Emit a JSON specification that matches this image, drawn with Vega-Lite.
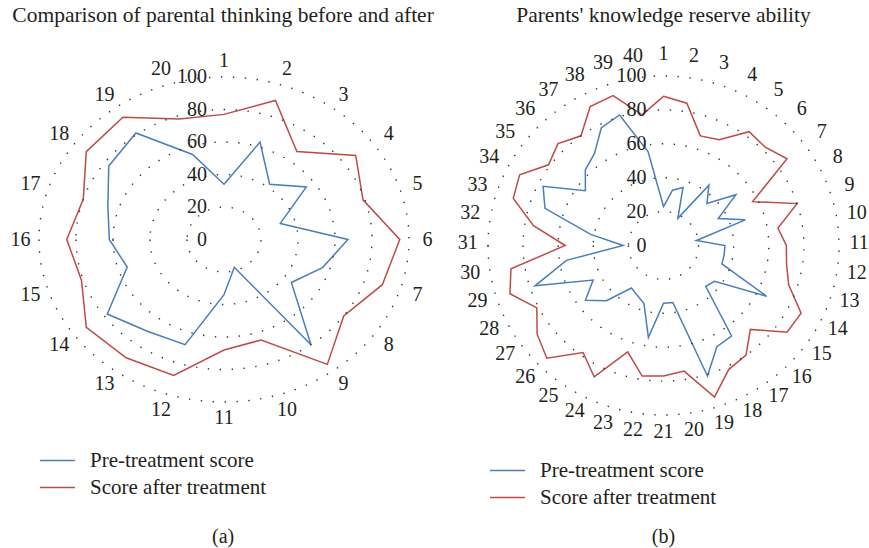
{
  "$schema": "https://vega.github.io/schema/vega-lite/v6.json",
  "width": 869,
  "height": 548,
  "padding": 0,
  "autosize": {"type": "none"},
  "background": "white",
  "config": {"view": {"stroke": null}, "font": "Liberation Serif"},
  "datasets": {
    "rings": [{"ring": 0}, {"ring": 20}, {"ring": 40}, {"ring": 60}, {"ring": 80}, {"ring": 100}],
    "a": [
      {"cat": 1, "Pre-treatment score": 34, "Score after treatment": 77},
      {"cat": 2, "Pre-treatment score": 63, "Score after treatment": 90},
      {"cat": 3, "Pre-treatment score": 42, "Score after treatment": 67},
      {"cat": 4, "Pre-treatment score": 55, "Score after treatment": 88},
      {"cat": 5, "Pre-treatment score": 32, "Score after treatment": 79},
      {"cat": 6, "Pre-treatment score": 67, "Score after treatment": 95},
      {"cat": 7, "Pre-treatment score": 56, "Score after treatment": 90},
      {"cat": 8, "Pre-treatment score": 45, "Score after treatment": 80},
      {"cat": 9, "Pre-treatment score": 80, "Score after treatment": 95},
      {"cat": 10, "Pre-treatment score": 18, "Score after treatment": 65},
      {"cat": 11, "Pre-treatment score": 34, "Score after treatment": 68},
      {"cat": 12, "Pre-treatment score": 68, "Score after treatment": 88},
      {"cat": 13, "Pre-treatment score": 70, "Score after treatment": 90},
      {"cat": 14, "Pre-treatment score": 78, "Score after treatment": 92},
      {"cat": 15, "Pre-treatment score": 55, "Score after treatment": 81},
      {"cat": 16, "Pre-treatment score": 62, "Score after treatment": 85},
      {"cat": 17, "Pre-treatment score": 66, "Score after treatment": 80},
      {"cat": 18, "Pre-treatment score": 77, "Score after treatment": 92},
      {"cat": 19, "Pre-treatment score": 81, "Score after treatment": 93},
      {"cat": 20, "Pre-treatment score": 55, "Score after treatment": 78}
    ],
    "b": [
      {"cat": 1, "Pre-treatment score": 23, "Score after treatment": 88},
      {"cat": 2, "Pre-treatment score": 33, "Score after treatment": 85},
      {"cat": 3, "Pre-treatment score": 36, "Score after treatment": 68},
      {"cat": 4, "Pre-treatment score": 18, "Score after treatment": 70},
      {"cat": 5, "Pre-treatment score": 44, "Score after treatment": 83},
      {"cat": 6, "Pre-treatment score": 35, "Score after treatment": 82},
      {"cat": 7, "Pre-treatment score": 51, "Score after treatment": 87},
      {"cat": 8, "Pre-treatment score": 35, "Score after treatment": 57},
      {"cat": 9, "Pre-treatment score": 49, "Score after treatment": 80},
      {"cat": 10, "Pre-treatment score": 19, "Score after treatment": 66},
      {"cat": 11, "Pre-treatment score": 35, "Score after treatment": 70},
      {"cat": 12, "Pre-treatment score": 35, "Score after treatment": 71},
      {"cat": 13, "Pre-treatment score": 35, "Score after treatment": 75},
      {"cat": 14, "Pre-treatment score": 66, "Score after treatment": 88},
      {"cat": 15, "Pre-treatment score": 36, "Score after treatment": 87},
      {"cat": 16, "Pre-treatment score": 34, "Score after treatment": 70},
      {"cat": 17, "Pre-treatment score": 66, "Score after treatment": 80},
      {"cat": 18, "Pre-treatment score": 67, "Score after treatment": 82},
      {"cat": 19, "Pre-treatment score": 81, "Score after treatment": 94},
      {"cat": 20, "Pre-treatment score": 34, "Score after treatment": 75},
      {"cat": 21, "Pre-treatment score": 34, "Score after treatment": 77},
      {"cat": 22, "Pre-treatment score": 55, "Score after treatment": 78},
      {"cat": 23, "Pre-treatment score": 36, "Score after treatment": 66},
      {"cat": 24, "Pre-treatment score": 33, "Score after treatment": 87},
      {"cat": 25, "Pre-treatment score": 31, "Score after treatment": 78},
      {"cat": 26, "Pre-treatment score": 46, "Score after treatment": 94},
      {"cat": 27, "Pre-treatment score": 55, "Score after treatment": 89},
      {"cat": 28, "Pre-treatment score": 45, "Score after treatment": 81},
      {"cat": 29, "Pre-treatment score": 77, "Score after treatment": 92},
      {"cat": 30, "Pre-treatment score": 56, "Score after treatment": 88},
      {"cat": 31, "Pre-treatment score": 23, "Score after treatment": 56},
      {"cat": 32, "Pre-treatment score": 42, "Score after treatment": 75},
      {"cat": 33, "Pre-treatment score": 71, "Score after treatment": 90},
      {"cat": 34, "Pre-treatment score": 77, "Score after treatment": 92},
      {"cat": 35, "Pre-treatment score": 55, "Score after treatment": 81},
      {"cat": 36, "Pre-treatment score": 63, "Score after treatment": 85},
      {"cat": 37, "Pre-treatment score": 67, "Score after treatment": 80},
      {"cat": 38, "Pre-treatment score": 78, "Score after treatment": 92},
      {"cat": 39, "Pre-treatment score": 81, "Score after treatment": 93},
      {"cat": 40, "Pre-treatment score": 56, "Score after treatment": 78}
    ]
  },
  "layer": [
    {
      "layer": [
        {
          "data": {"name": "a"},
          "transform": [
            {"fold": ["Pre-treatment score", "Score after treatment"], "as": ["series", "value"]},
            {"calculate": "2*PI*(datum.cat-1)/20", "as": "ang"},
            {"calculate": "datum.value*sin(datum.ang)", "as": "px"},
            {"calculate": "datum.value*cos(datum.ang)", "as": "py"}
          ],
          "mark": {"type": "line", "interpolate": "linear-closed", "strokeWidth": 1.5},
          "encoding": {
            "x": {"field": "px", "type": "quantitative", "scale": {"domain": [-121.081, 348.649], "nice": false, "zero": false}, "axis": null},
            "y": {"field": "py", "type": "quantitative", "scale": {"domain": [-189.846, 147.385], "nice": false, "zero": false}, "axis": null},
            "order": {"field": "cat", "type": "quantitative"},
            "color": {"field": "series", "type": "nominal",
              "scale": {"domain": ["Pre-treatment score", "Score after treatment"], "range": ["#4a7ebb", "#be4b48"]},
              "legend": {"title": null, "orient": "none", "legendX": 39, "legendY": 447, "symbolType": "stroke", "symbolSize": 1225, "symbolStrokeWidth": 1.5, "labelFont": "Liberation Serif", "labelFontSize": 21, "labelColor": "#231f20", "labelOffset": 14, "rowPadding": 0, "clipHeight": 27, "labelLimit": 400}}
          }
        },
        {
          "data": {"name": "rings"},
          "mark": {"type": "point", "shape": "M-1,0A1,0.8784,0,1,0,1,0A1,0.8784,0,1,0,-1,0Z", "filled": false, "stroke": "#333333", "strokeWidth": 1.4, "strokeDash": [1.4, 10.5], "opacity": 1},
          "encoding": {
            "x": {"datum": 0, "type": "quantitative", "axis": null},
            "y": {"datum": 0, "type": "quantitative", "axis": null},
            "size": {"field": "ring", "type": "quantitative", "scale": {"type": "pow", "exponent": 2, "domain": [0, 100], "range": [0, 136900]}, "legend": null}
          }
        },
        {
          "data": {"name": "rings"},
          "mark": {"type": "text", "align": "right", "baseline": "middle", "dx": -17, "fontSize": 20, "font": "Liberation Serif", "color": "#231f20"},
          "encoding": {
            "x": {"datum": 0, "type": "quantitative", "axis": null},
            "y": {"field": "ring", "type": "quantitative", "axis": null},
            "text": {"field": "ring", "type": "quantitative"}
          }
        },
        {
          "data": {"name": "a"},
          "transform": [
            {"calculate": "2*PI*(datum.cat-1)/20", "as": "ang"},
            {"calculate": "110*sin(datum.ang)", "as": "lx"},
            {"calculate": "110*cos(datum.ang)", "as": "ly"}
          ],
          "mark": {"type": "text", "align": "center", "baseline": "middle", "fontSize": 20, "font": "Liberation Serif", "color": "#231f20"},
          "encoding": {
            "x": {"field": "lx", "type": "quantitative", "axis": null},
            "y": {"field": "ly", "type": "quantitative", "axis": null},
            "text": {"field": "cat", "type": "quantitative"}
          }
        },
        {
          "data": {"values": [{"label": "Comparison of parental thinking before and after"}]},
          "mark": {"type": "text", "align": "center", "baseline": "middle", "fontSize": 21.5, "font": "Liberation Serif", "color": "#231f20"},
          "encoding": {
            "x": {"datum": -0.5, "type": "quantitative", "axis": null},
            "y": {"datum": 137.5, "type": "quantitative", "axis": null},
            "text": {"field": "label", "type": "nominal"}
          }
        },
        {
          "data": {"values": [{"label": "(a)"}]},
          "mark": {"type": "text", "align": "center", "baseline": "middle", "fontSize": 20, "font": "Liberation Serif", "color": "#231f20"},
          "encoding": {
            "x": {"datum": -0.5, "type": "quantitative", "axis": null},
            "y": {"datum": -183.1, "type": "quantitative", "axis": null},
            "text": {"field": "label", "type": "nominal"}
          }
        }
      ]
    },
    {
      "layer": [
        {
          "data": {"name": "b"},
          "transform": [
            {"fold": ["Pre-treatment score", "Score after treatment"], "as": ["series", "value"]},
            {"calculate": "2*PI*(datum.cat-1)/40", "as": "ang"},
            {"calculate": "datum.value*sin(datum.ang)", "as": "px"},
            {"calculate": "datum.value*cos(datum.ang)", "as": "py"}
          ],
          "mark": {"type": "line", "interpolate": "linear-closed", "strokeWidth": 1.5},
          "encoding": {
            "x": {"field": "px", "type": "quantitative", "scale": {"domain": [-378.063, 117.094], "nice": false, "zero": false}, "axis": null},
            "y": {"field": "py", "type": "quantitative", "scale": {"domain": [-178.466, 144.838], "nice": false, "zero": false}, "axis": null},
            "order": {"field": "cat", "type": "quantitative"},
            "color": {"field": "series", "type": "nominal",
              "scale": {"domain": ["Pre-treatment score", "Score after treatment"], "range": ["#4a7ebb", "#be4b48"]},
              "legend": {"title": null, "orient": "none", "legendX": 489, "legendY": 457, "symbolType": "stroke", "symbolSize": 1225, "symbolStrokeWidth": 1.5, "labelFont": "Liberation Serif", "labelFontSize": 21, "labelColor": "#231f20", "labelOffset": 14, "rowPadding": 0, "clipHeight": 27, "labelLimit": 400}}
          }
        },
        {
          "data": {"name": "rings"},
          "mark": {"type": "point", "shape": "M-1,0A1,0.9658,0,1,0,1,0A1,0.9658,0,1,0,-1,0Z", "filled": false, "stroke": "#333333", "strokeWidth": 1.4, "strokeDash": [1.4, 10.5], "opacity": 1},
          "encoding": {
            "x": {"datum": 0, "type": "quantitative", "axis": null},
            "y": {"datum": 0, "type": "quantitative", "axis": null},
            "size": {"field": "ring", "type": "quantitative", "scale": {"type": "pow", "exponent": 2, "domain": [0, 100], "range": [0, 123201]}, "legend": null}
          }
        },
        {
          "data": {"name": "rings"},
          "mark": {"type": "text", "align": "right", "baseline": "middle", "dx": -17, "fontSize": 20, "font": "Liberation Serif", "color": "#231f20"},
          "encoding": {
            "x": {"datum": 0, "type": "quantitative", "axis": null},
            "y": {"field": "ring", "type": "quantitative", "axis": null},
            "text": {"field": "ring", "type": "quantitative"}
          }
        },
        {
          "data": {"name": "b"},
          "transform": [
            {"calculate": "2*PI*(datum.cat-1)/40", "as": "ang"},
            {"calculate": "111.5*sin(datum.ang)", "as": "lx"},
            {"calculate": "111.5*cos(datum.ang)+1.5", "as": "ly"}
          ],
          "mark": {"type": "text", "align": "center", "baseline": "middle", "fontSize": 20, "font": "Liberation Serif", "color": "#231f20"},
          "encoding": {
            "x": {"field": "lx", "type": "quantitative", "axis": null},
            "y": {"field": "ly", "type": "quantitative", "axis": null},
            "text": {"field": "cat", "type": "quantitative"}
          }
        },
        {
          "data": {"values": [{"label": "Parents' knowledge reserve ability"}]},
          "mark": {"type": "text", "align": "center", "baseline": "middle", "fontSize": 21.5, "font": "Liberation Serif", "color": "#231f20"},
          "encoding": {
            "x": {"datum": 0, "type": "quantitative", "axis": null},
            "y": {"datum": 135.4, "type": "quantitative", "axis": null},
            "text": {"field": "label", "type": "nominal"}
          }
        },
        {
          "data": {"values": [{"label": "(b)"}]},
          "mark": {"type": "text", "align": "center", "baseline": "middle", "fontSize": 20, "font": "Liberation Serif", "color": "#231f20"},
          "encoding": {
            "x": {"datum": 0, "type": "quantitative", "axis": null},
            "y": {"datum": -172.0, "type": "quantitative", "axis": null},
            "text": {"field": "label", "type": "nominal"}
          }
        }
      ]
    }
  ],
  "resolve": {
    "scale": {"x": "independent", "y": "independent", "color": "independent", "size": "independent"},
    "legend": {"color": "independent"}
  }
}
